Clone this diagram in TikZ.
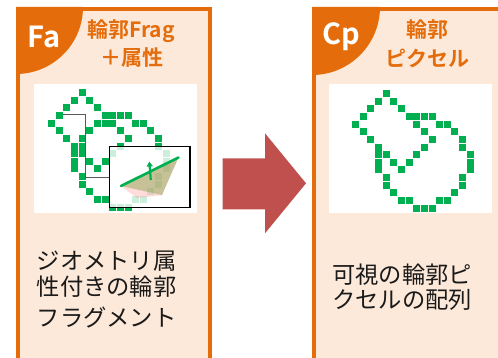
\documentclass[tikz,border=0pt]{standalone}
\usepackage{fontspec}
\setmainfont{Noto Sans CJK JP}[BoldFont={Noto Sans CJK JP Bold}]
\usetikzlibrary{arrows.meta}
\definecolor{accent}{HTML}{E46C0A}
\definecolor{panelfill}{HTML}{FDE9D9}
\definecolor{pix}{HTML}{00B050}
\definecolor{arrowred}{HTML}{C0504D}
\definecolor{olive}{HTML}{A8A060}
\definecolor{bodyink}{HTML}{1A1A1A}
\tikzset{
  panel/.style={draw=accent, line width=4pt, fill=panelfill},
  tab/.style={fill=accent},
  tagtxt/.style={text=white, font=\bfseries\fontsize{29}{29}\selectfont, inner sep=0pt},
  headtxt/.style={text=accent, font=\bfseries\fontsize{21}{21}\selectfont, inner sep=0pt},
  bodytxt/.style={text=bodyink, font=\fontsize{23.3}{26}\selectfont, inner sep=0pt, anchor=west},
  canvas/.style={fill=white},
  pixel/.style={fill=pix},
}
% pixel helper: grid origin x, y, list of column/row pairs
\newcommand{\pixgrid}[3]{%
  \foreach \c/\r in {#3}
    \fill[pixel] ({#1+7.65*\c},{#2+7.65*\r}) rectangle ++(7,7);}
\begin{document}
\begin{tikzpicture}[x=1pt,y=-1pt]
\clip (0,0) rectangle (498,358);
\fill[white] (0,0) rectangle (498,358);

% ---------- left panel: fragments with attributes ----------
\draw[panel] (18,9) rectangle (209.5,420);
\fill[tab] (16,7) -- (83,7) arc[start angle=0, end angle=90, radius=67] -- cycle;
\node[tagtxt] (fa) at (44,37) {Fa};
\node[headtxt] (fah1) at (131,31) {輪郭Frag};
\node[headtxt] (fah2) at (132,58) {＋属性};

\fill[canvas] (34,84) rectangle (196.7,212.7);
\pixgrid{48}{89}{4/0, 3/1,5/1, 2/2,6/2, 1/3,7/3,8/3,9/3,10/3,
  0/4,6/4,7/4,8/4,11/4,12/4, 1/5,5/5,9/5,13/5, 2/6,4/6,10/6,14/6,
  3/7,4/7,9/7,14/7, 3/8,4/8,8/8,15/8, 3/9,5/9,7/9,15/9, 3/10,6/10,15/10,
  4/11,14/11, 4/12,14/12, 5/13,13/13, 6/14,7/14,11/14,12/14, 8/15,9/15,10/15}

% source outline and magnified inset
\draw[black!65, line width=1pt] (63,115) -- (85.7,115) -- (85.7,177.3) -- (109.3,177.3);
\fill[white, opacity=0.8] (109.3,146.7) rectangle (190,207.3);
\fill[red!40, opacity=0.35] (121,186) -- (137,198) -- (163,195) -- cycle;
\fill[olive, opacity=0.65] (121,186) -- (178.5,157.5) -- (162,195) -- cycle;
\draw[pix, line width=2.6pt, line cap=round] (121,186) -- (178.5,157.5);
\draw[pix, line width=2.2pt, -{Triangle[length=5pt,width=6pt]}] (150.8,180) -- (149.3,161.5);
\draw[black, line width=1.2pt] (109.3,146.7) rectangle (190,207.3);

\node[bodytxt] (fab1) at (36.5,261) {ジオメトリ属};
\node[bodytxt] (fab2) at (36.5,287) {性付きの輪郭};
\node[bodytxt] (fab3) at (36.5,318) {フラグメント};

% ---------- transition arrow ----------
\fill[arrowred] (222.7,158.3) -- (265,158.3) -- (265,133.3) -- (306,183.3)
  -- (265,233.3) -- (265,209.3) -- (222.7,209.3) -- cycle;

% ---------- right panel: visible contour pixels ----------
\draw[panel] (314,9) rectangle (560,420);
\fill[tab] (312,7) -- (380,7) arc[start angle=0, end angle=90, radius=68] -- cycle;
\node[tagtxt] (cp) at (341,37) {Cp};
\node[headtxt] (cph1) at (427.5,30) {輪郭};
\node[headtxt] (cph2) at (427,58) {ピクセル};

\fill[canvas] (329,84) rectangle (491.7,212.7);
\pixgrid{352}{90}{4/0, 3/1,5/1, 2/2,6/2, 1/3,7/3,8/3,9/3,10/3,
  0/4,8/4,11/4,12/4, 1/5,9/5,13/5, 2/6,10/6,14/6,
  3/7,9/7,14/7, 3/8,4/8,8/8,15/8, 3/9,5/9,7/9,15/9, 3/10,6/10,15/10,
  4/11,14/11, 4/12,14/12, 5/13,13/13, 6/14,7/14,11/14,12/14, 8/15,9/15,10/15}

\node[bodytxt] (cpb1) at (332,275) {可視の輪郭ピ};
\node[bodytxt] (cpb2) at (332,300) {クセルの配列};
\end{tikzpicture}
\end{document}
